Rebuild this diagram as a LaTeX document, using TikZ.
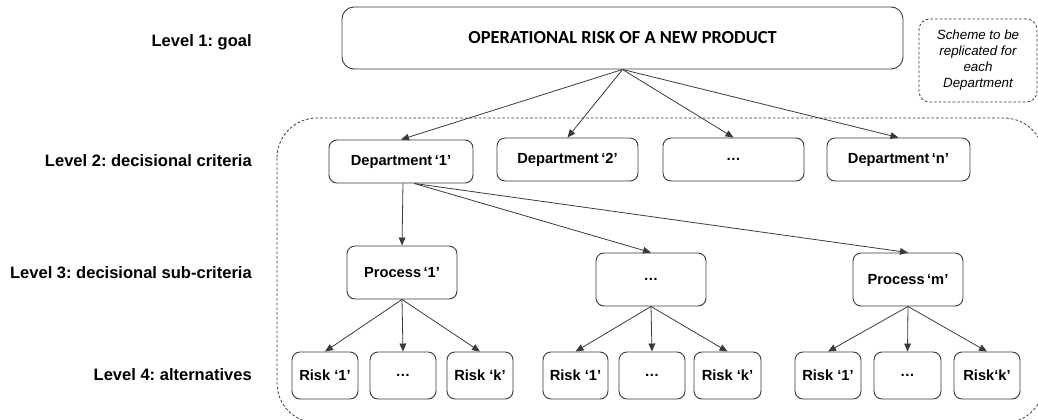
\documentclass[tikz,border=0pt]{standalone}
\usepackage{fontspec}
\setmainfont{Liberation Sans}
\newfontfamily\calfont{Carlito}
\usetikzlibrary{arrows.meta,positioning}
\definecolor{edge}{HTML}{3A3A3A}
\frenchspacing
\tikzset{
  box/.style={draw=edge,line width=0.7pt,rounded corners=6pt,font=\bfseries\fontsize{11pt}{13pt}\selectfont,inner sep=0pt},
  lvl/.style={anchor=east,font=\bfseries\fontsize{12.4pt}{14pt}\selectfont,inner sep=0pt},
  arr/.style={draw=edge,line width=0.6pt,-{Triangle[length=6pt,width=5pt]}},
  dashbox/.style={draw=edge,line width=0.6pt,dash pattern=on 2pt off 1.5pt}
}
\newcommand{\bx}[6]{\node[box,minimum width=#4*0.75pt,minimum height=#5*0.75pt] (#1) at (#2,#3) {#6};}
\begin{document}
\begin{tikzpicture}[x=0.75pt,y=-0.75pt]
\useasboundingbox (0,0) rectangle (1038,419);
\begin{scope}
\clip (0,0) rectangle (1038,419);
\draw[dashbox,rounded corners=30pt] (277,118) rectangle (1044,423);
\end{scope}
% level labels
\node[lvl] (l1) at (252,42) {Level 1: goal};
\node[lvl] (l2) at (252,161) {Level 2: decisional criteria};
\node[lvl] (l3) at (252,273) {Level 3: decisional sub-criteria};
\node[lvl] (l4) at (252,375) {Level 4: alternatives};
% goal
\node[box,rounded corners=9pt,minimum width=561*0.75pt,minimum height=62*0.75pt,font=\calfont\bfseries\fontsize{13.8pt}{15pt}\selectfont] (goal) at (622.5,38) {OPERATIONAL RISK OF A NEW PRODUCT};
% scheme note
\node[dashbox,rounded corners=8pt,minimum width=118*0.75pt,minimum height=83*0.75pt,align=center,font=\itshape\fontsize{10pt}{12pt}\selectfont,inner sep=0pt] (note) at (978,60.5) {Scheme to be\\replicated for\\each\\Department};
% departments
\bx{d1}{401}{161.5}{144}{43}{Department\,‘1’}
\bx{d2}{567.5}{159.5}{141}{43}{Department\,‘2’}
\bx{d3}{733.5}{159.5}{141}{43}{…}
\bx{dn}{898.5}{159.5}{143}{43}{Department\,‘n’}
% processes
\bx{p1}{402}{272.5}{110}{53}{Process\,‘1’}
\bx{p2}{651}{279.5}{110}{53}{…}
\bx{pm}{908}{279.5}{110}{53}{Process\,‘m’}
% risks
\bx{r11}{325}{375.5}{66}{47}{Risk ‘1’}
\bx{r12}{403}{375.5}{66}{47}{…}
\bx{r13}{480}{375.5}{66}{47}{Risk ‘k’}
\bx{r21}{575.5}{375.5}{65}{47}{Risk ‘1’}
\bx{r22}{652}{375.5}{66}{47}{…}
\bx{r23}{727.5}{375.5}{67}{47}{Risk ‘k’}
\bx{r31}{828}{375.5}{66}{47}{Risk ‘1’}
\bx{r32}{907.5}{375.5}{67}{47}{…}
\bx{r33}{987}{375.5}{66}{47}{Risk‘k’}
% arrows
\foreach \t in {d1,d2,d3,dn} \draw[arr] (goal.south) -- (\t.north);
\draw[arr] ([xshift=1.5pt]d1.south) -- (p1.north);
\draw[arr] ([xshift=10pt]d1.south) -- (p2.north);
\draw[arr] ([xshift=10pt]d1.south) -- (pm.north);
\foreach \p/\a/\b/\c in {p1/r11/r12/r13,p2/r21/r22/r23,pm/r31/r32/r33}{
  \draw[arr] (\p.south) -- (\a.north);
  \draw[arr] (\p.south) -- (\b.north);
  \draw[arr] (\p.south) -- (\c.north);
}
\end{tikzpicture}
\end{document}
